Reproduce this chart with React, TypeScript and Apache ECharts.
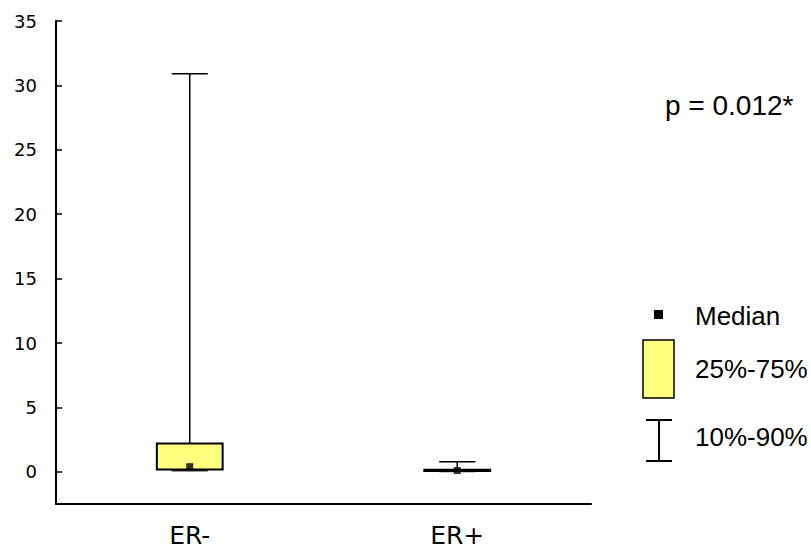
import React, { useEffect, useRef } from "react";
import * as echarts from "echarts";

const categories = ["ER-", "ER+"];
// [p10, q1, median, q3, p90]
const p10 = [0.08, 0.02];
const q1 = [0.17, 0.06];
const median = [0.4, 0.1];
const q3 = [2.2, 0.16];
const p90 = [30.9, 0.78];
const yTicks = [0, 5, 10, 15, 20, 25, 30, 35];
const pText = "p = 0.012*";
const legendLabels = ["Median", "25%-75%", "10%-90%"];

const FONT = "Liberation Sans, Arial, sans-serif";

export default function App() {
  const ref = useRef<HTMLDivElement>(null);
  useEffect(() => {
    if (!ref.current) return;
    const chart = echarts.init(ref.current, undefined, { renderer: "svg" });
    const boxData = categories.map((_, i) => [i, p10[i], q1[i], median[i], q3[i], p90[i]]);
    const medData = categories.map((_, i) => [i, median[i]]);
    chart.setOption({
      animation: false,
      backgroundColor: "#ffffff",
      grid: { left: 56, right: 220, top: 21, bottom: 45, containLabel: false },
      xAxis: {
        type: "category",
        data: categories,
        boundaryGap: true,
        axisLine: { onZero: false, lineStyle: { color: "#000", width: 2 } },
        axisTick: { show: false },
        axisLabel: { color: "#000", fontSize: 25, fontFamily: "DejaVu Sans, sans-serif", margin: 19 },
        splitLine: { show: false },
      },
      yAxis: {
        type: "value",
        min: -2.5,
        max: 35,
        axisLine: { show: true, onZero: false, lineStyle: { color: "#000", width: 2 } },
        axisTick: { show: true, inside: true, length: 6, customValues: yTicks, lineStyle: { color: "#000", width: 1.5 } },
        axisLabel: { color: "#000", fontSize: 18, fontFamily: "DejaVu Sans, sans-serif", margin: 19, customValues: yTicks, padding: [5, 0, 0, 0] },
        splitLine: { show: false },
      },
      series: [
        {
          type: "custom",
          data: boxData,
          renderItem: (params: any, api: any) => {
            const x = api.value(0);
            const lo = api.coord([x, api.value(1)]);
            const b1 = api.coord([x, api.value(2)]);
            const b3 = api.coord([x, api.value(4)]);
            const hi = api.coord([x, api.value(5)]);
            const band = api.size([1, 0])[0];
            const bw = band * 0.246;
            const cw = band * 0.135;
            const cx = b1[0];
            const ls = { stroke: "#000", lineWidth: 1.5 };
            return {
              type: "group",
              children: [
                { type: "line", shape: { x1: cx, y1: hi[1], x2: cx, y2: b3[1] }, style: ls },
                { type: "line", shape: { x1: cx - cw / 2, y1: hi[1], x2: cx + cw / 2, y2: hi[1] }, style: ls },
                { type: "line", shape: { x1: cx, y1: lo[1], x2: cx, y2: b1[1] }, style: ls },
                { type: "line", shape: { x1: cx - cw / 2, y1: lo[1], x2: cx + cw / 2, y2: lo[1] }, style: { stroke: "#333", lineWidth: 1.5 } },
                {
                  type: "rect",
                  shape: { x: cx - bw / 2, y: b3[1], width: bw, height: Math.max(b1[1] - b3[1], 0.5) },
                  style: { fill: "#ffff80", stroke: "#000", lineWidth: 2 },
                },
              ],
            };
          },
          z: 2,
        },
        {
          type: "scatter",
          data: medData,
          symbol: "rect",
          symbolSize: 7,
          itemStyle: { color: "#000" },
          z: 3,
        },
      ],
      graphic: [
        {
          type: "text",
          left: 665,
          top: 91,
          style: { text: pText, fill: "#000", fontSize: 28, fontFamily: FONT },
        },
        { type: "rect", shape: { x: 654, y: 310, width: 9, height: 9 }, style: { fill: "#000" } },
        { type: "text", left: 695, top: 303, style: { text: legendLabels[0], fill: "#000", fontSize: 26, fontFamily: FONT } },
        { type: "rect", shape: { x: 643, y: 340, width: 31, height: 58 }, style: { fill: "#ffff80", stroke: "#000", lineWidth: 1.5 } },
        { type: "text", left: 695, top: 356, style: { text: legendLabels[1], fill: "#000", fontSize: 26, fontFamily: FONT } },
        { type: "line", shape: { x1: 659, y1: 420, x2: 659, y2: 461 }, style: { stroke: "#000", lineWidth: 2 } },
        { type: "line", shape: { x1: 646, y1: 420, x2: 672, y2: 420 }, style: { stroke: "#000", lineWidth: 2 } },
        { type: "line", shape: { x1: 646, y1: 461, x2: 672, y2: 461 }, style: { stroke: "#000", lineWidth: 2 } },
        { type: "text", left: 695, top: 424, style: { text: legendLabels[2], fill: "#000", fontSize: 26, fontFamily: FONT } },
      ],
    });
    return () => chart.dispose();
  }, []);
  return <div ref={ref} style={{ position: "fixed", left: 0, top: 0, width: 811, height: 549 }} />;
}
